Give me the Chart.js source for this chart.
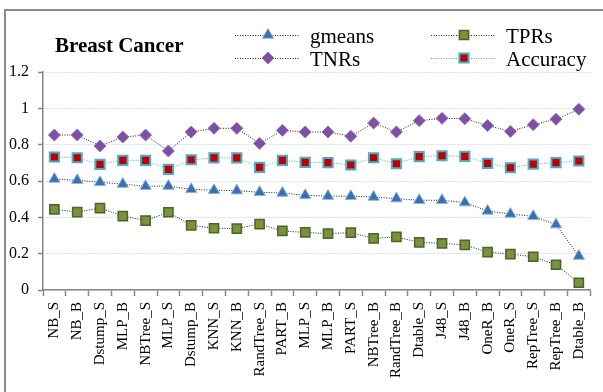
<!DOCTYPE html>
<html lang="en">
<head>
    <meta charset="UTF-8">
    <title>Breast Cancer</title>
    <script src="https://cdn.jsdelivr.net/npm/chart.js"></script>
    <style>
        body { margin: 0; background: #fff; }
    </style>
</head>
<body>
    <canvas id="myChart" width="603" height="392"></canvas>
    <script>
        const categories = ['NB_S', 'NB_B', 'Dstump_S', 'MLP_B', 'NBTree_S', 'MLP_S', 'Dstump_B', 'KNN_S',
            'KNN_B', 'RandTree_S', 'PART_B', 'MLP_S', 'MLP_B', 'PART_S', 'NBTree_B', 'RandTree_B',
            'Dtable_S', 'J48_S', 'J48_B', 'OneR_B', 'OneR_S', 'RepTree_S', 'RepTree_B', 'Dtable_B'];
        const gmeans = [0.611, 0.604, 0.593, 0.583, 0.571, 0.572, 0.554, 0.549, 0.547, 0.538, 0.534, 0.521,
            0.517, 0.516, 0.512, 0.503, 0.494, 0.494, 0.481, 0.435, 0.418, 0.406, 0.360, 0.187];
        const tprs = [0.444, 0.429, 0.451, 0.407, 0.382, 0.428, 0.356, 0.340, 0.338, 0.363, 0.325, 0.317,
            0.310, 0.316, 0.284, 0.292, 0.262, 0.257, 0.248, 0.208, 0.198, 0.183, 0.139, 0.040];
        const tnrs = [0.853, 0.853, 0.793, 0.842, 0.853, 0.765, 0.870, 0.890, 0.890, 0.807, 0.879, 0.870,
            0.870, 0.846, 0.919, 0.870, 0.932, 0.945, 0.943, 0.905, 0.873, 0.910, 0.940, 0.995];
        const accuracy = [0.732, 0.728, 0.692, 0.714, 0.714, 0.664, 0.717, 0.727, 0.727, 0.675, 0.714, 0.703,
            0.701, 0.688, 0.728, 0.695, 0.734, 0.739, 0.736, 0.697, 0.673, 0.693, 0.701, 0.710];
        const yTicks = [0, 0.2, 0.4, 0.6, 0.8, 1, 1.2];
        const chartTitle = 'Breast Cancer';

        const axisGray = '#868686';
        const serif = "'Liberation Serif', 'Times New Roman', serif";

        // legend spots: [x of line start, y of line] in 2 columns
        const legendSpots = [[235, 35], [431, 35], [235, 58], [431, 58]];

        function drawShape(ctx, style, r, x, y) {
            if (style === 'triangle') {
                ctx.moveTo(x, y - r);
                ctx.lineTo(x + Math.sin(2.0944) * r, y - Math.cos(2.0944) * r);
                ctx.lineTo(x + Math.sin(4.18879) * r, y - Math.cos(4.18879) * r);
                ctx.closePath();
            } else if (style === 'rectRot') {
                ctx.moveTo(x, y - r);
                ctx.lineTo(x + r, y);
                ctx.lineTo(x, y + r);
                ctx.lineTo(x - r, y);
                ctx.closePath();
            } else {
                const s = r * Math.SQRT1_2;
                ctx.rect(x - s, y - s, 2 * s, 2 * s);
            }
        }

        const frameAndLegend = {
            id: 'frameAndLegend',
            beforeDraw(chart) {
                const ctx = chart.ctx;
                ctx.save();
                ctx.fillStyle = '#fff';
                ctx.fillRect(0, 0, chart.width, chart.height);
                ctx.strokeStyle = '#8c8c8c';
                ctx.lineWidth = 2;
                ctx.strokeRect(5, 10, 700, 500);
                ctx.restore();
            },
            afterDraw(chart) {
                const ctx = chart.ctx;
                ctx.save();
                ctx.fillStyle = '#000';
                ctx.font = 'bold 21px ' + serif;
                ctx.textBaseline = 'alphabetic';
                ctx.fillText(chartTitle, 55, 52);

                chart.data.datasets.forEach((ds, k) => {
                    const [x, y] = legendSpots[k];
                    ctx.save();
                    ctx.strokeStyle = ds.borderColor;
                    ctx.lineWidth = 1;
                    ctx.setLineDash([1, 1.5]);
                    ctx.beginPath();
                    ctx.moveTo(x, y + 0.5);
                    ctx.lineTo(x + 65, y + 0.5);
                    ctx.stroke();
                    ctx.restore();

                    ctx.save();
                    ctx.fillStyle = ds.pointBackgroundColor;
                    ctx.strokeStyle = ds.pointBorderColor;
                    ctx.lineWidth = ds.pointBorderWidth;
                    ctx.beginPath();
                    drawShape(ctx, ds.pointStyle, ds.pointRadius, x + 33, y);
                    ctx.fill();
                    ctx.stroke();
                    ctx.restore();

                    ctx.fillStyle = '#000';
                    ctx.font = '21px ' + serif;
                    ctx.fillText(ds.label, x + 75, y + 8);
                });
                ctx.restore();
            }
        };

        const data = {
            labels: categories,
            datasets: [
                {
                    label: 'gmeans',
                    data: gmeans,
                    borderColor: '#222',
                    borderWidth: 1,
                    borderDash: [1, 1.5],
                    pointStyle: 'triangle',
                    pointRadius: 6.5,
                    pointBackgroundColor: '#3a6fb0',
                    pointBorderColor: '#8db3e2',
                    pointBorderWidth: 1
                },
                {
                    label: 'TPRs',
                    data: tprs,
                    borderColor: '#222',
                    borderWidth: 1,
                    borderDash: [1, 1.5],
                    pointStyle: 'rect',
                    pointRadius: 6.5,
                    pointBackgroundColor: '#77933c',
                    pointBorderColor: '#4f6228',
                    pointBorderWidth: 1.5
                },
                {
                    label: 'TNRs',
                    data: tnrs,
                    borderColor: '#222',
                    borderWidth: 1,
                    borderDash: [1, 1.5],
                    pointStyle: 'rectRot',
                    pointRadius: 6,
                    pointBackgroundColor: '#7f4fa6',
                    pointBorderColor: '#9575bb',
                    pointBorderWidth: 1
                },
                {
                    label: 'Accuracy',
                    data: accuracy,
                    borderColor: '#4bacc6',
                    borderWidth: 1,
                    borderDash: [1, 1.5],
                    pointStyle: 'rect',
                    pointRadius: 6.5,
                    pointBackgroundColor: '#c00000',
                    pointBorderColor: '#4bacc6',
                    pointBorderWidth: 2
                }
            ]
        };

        const config = {
            type: 'line',
            data: data,
            plugins: [frameAndLegend],
            options: {
                responsive: false,
                animation: false,
                layout: { padding: { top: 72, right: 8, left: 0, bottom: 0 } },
                elements: { line: { tension: 0 } },
                plugins: {
                    legend: { display: false },
                    tooltip: { enabled: false }
                },
                scales: {
                    x: {
                        offset: true,
                        afterFit: (scale) => { scale.height = 102; },
                        grid: {
                            display: true,
                            offset: true,
                            drawOnChartArea: false,
                            drawTicks: true,
                            tickLength: 6,
                            tickColor: axisGray,
                            tickWidth: 1.5
                        },
                        border: { color: axisGray, width: 1.5 },
                        ticks: {
                            autoSkip: false,
                            minRotation: 90,
                            maxRotation: 90,
                            padding: 6,
                            color: '#000',
                            font: { family: serif, size: 15 }
                        }
                    },
                    y: {
                        min: 0,
                        max: 1.2,
                        afterFit: (scale) => { scale.width = 43; },
                        afterBuildTicks: (scale) => { scale.ticks = yTicks.map(v => ({ value: v })); },
                        grid: {
                            color: '#a9c8ea',
                            lineWidth: 1,
                            drawTicks: true,
                            tickLength: 5,
                            tickColor: axisGray,
                            tickWidth: 1.5
                        },
                        border: { color: axisGray, width: 1.5, dash: [1, 2] },
                        ticks: {
                            padding: 9,
                            color: '#000',
                            font: { family: serif, size: 16 },
                            callback: (v) => String(v)
                        }
                    }
                }
            }
        };

        const ctx = document.getElementById('myChart').getContext('2d');
        const myChart = new Chart(ctx, config);
    </script>
</body>
</html>
